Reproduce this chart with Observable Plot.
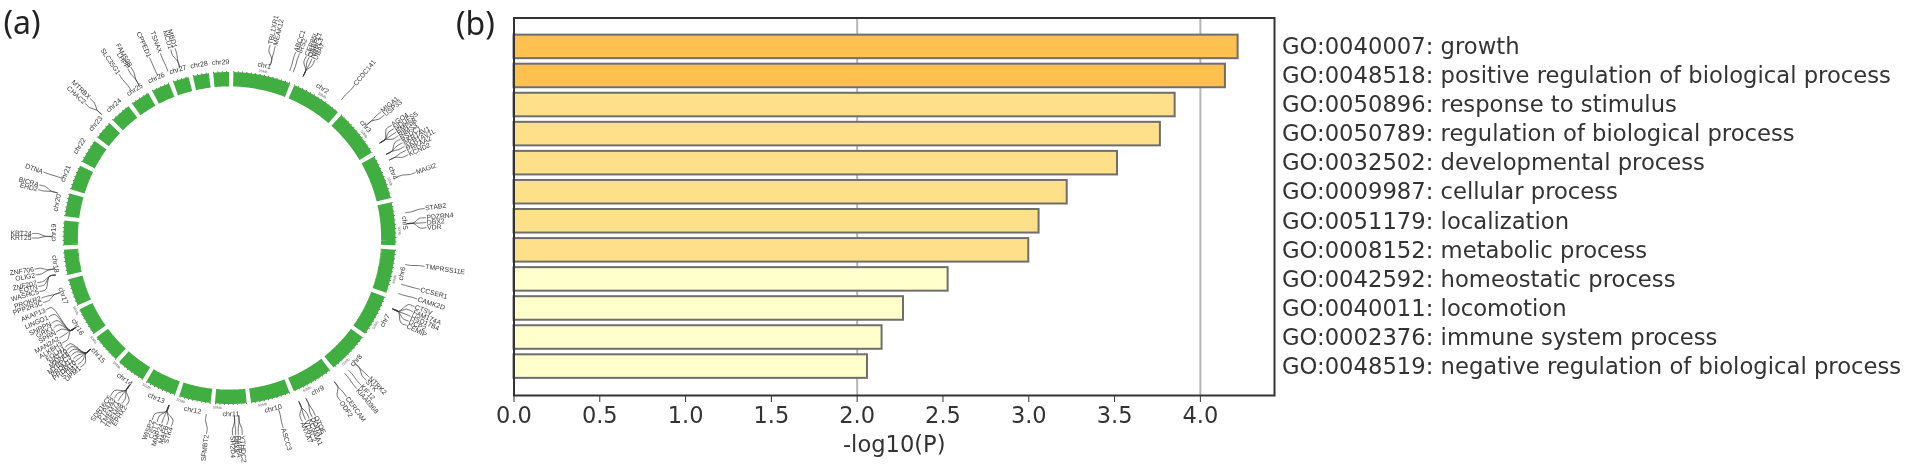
<!DOCTYPE html>
<html><head><meta charset="utf-8">
<script src="https://cdn.jsdelivr.net/npm/d3@7"></script>
<script src="https://cdn.jsdelivr.net/npm/@observablehq/plot@0.6"></script>
<style>
html,body{margin:0;padding:0;background:#fff;overflow:hidden}
#wrap{display:flex;width:1905px;height:471px}
#wrap svg{display:block;flex:none;filter:blur(0.45px)}
#wrap svg:first-child{margin-right:-30px}
</style></head><body><div id="wrap"></div>
<script>
// ---------- panel (b) ----------
const goTerms = ["GO:0040007: growth","GO:0048518: positive regulation of biological process","GO:0050896: response to stimulus","GO:0050789: regulation of biological process","GO:0032502: developmental process","GO:0009987: cellular process","GO:0051179: localization","GO:0008152: metabolic process","GO:0042592: homeostatic process","GO:0040011: locomotion","GO:0002376: immune system process","GO:0048519: negative regulation of biological process"];
const logP = [4.22,4.146,3.853,3.767,3.517,3.224,3.06,3.0,2.53,2.27,2.145,2.06];
const tiers = ["high","high","mid","mid","mid","mid","mid","mid","low","low","low","low"];
const tierColors = ["#FEC04E","#FEE08B","#FFFFCC"];
const xTicks = [0,0.5,1,1.5,2,2.5,3,3.5,4];
const gridAt = [2,4];

// ---------- panel (a): angles in degrees clockwise from the top ----------
const chrNames = d3.range(1,30).map(i=>"chr"+i);
const chrStarts = [0.6,22.2,41.5,59.8,76.8,93.3,110,126,142,158,173.3,185.8,198.4,210.8,222.4,234,245.3,256.4,266.7,276.8,286.3,296.6,306.5,314.5,323.3,331.5,339.4,346.5,353.6];
const geneNames = ["TBL1XR1","MEAK12","ABCC1","IRS2","CEP85L","OSBPL1","NRPL3","UBA7","CCDC141","MIGA1","USP33","AGO4","NDUFS5","BMP8B","RIMS3","BSDC1","AKR1AV1","AKR1AV1L","PRKAA2","KCND2","MAGI2","STAB2","PDZRN4","DBX2","VDR","TMPRSS11E","CCSER1","CAMK2D","CTSV","FAM174A","HSD17B4","DCP2","CEMIP","NTRK2","SYK","KIF12","KIAA0368","CERCAM","ODF2","OTOE","DDIT4","KCNMA1","VDAC2","ANXA7","ASCC3","YTHDC2","PAPPA","PAX8","SH2D4","SFMBT2","STK4","MAFB","MMP24","CST7","WISP2","EPHX2","TMEM68","TMEM71","PTP4A3","SDR16C5","UPM1","STIM1","PRDM10","PRDM11","MYBPC3","MAPK8","NAT10","FOLH1","ALKBH3","MAN2A2","SPRN","GRK1","SNRPN","LINGO1","AKAP13","PPP2R3C","PROKR2","WASHC5","EQTN","ZNF207","OLIG2","ZNF706","KRT25","KRT24","EHD2","BICRA","DTNA","CHAC2","MTRBX","SLC35G1","LHPP","FAM59B","CPPED1","TSNAX","MCU1","MBD1"];
const genePos = [13.3,13.3,19.8,21,24.5,24.5,24.5,24.5,39,50.5,50.5,57.7,57.7,57.7,57.7,61.9,61.9,61.9,64,64,70,81.8,85.4,85.4,85.4,98.6,105.1,108.2,113.5,113.5,113.5,113.5,113.5,135,135,138,139.6,143.9,143.9,154.5,154.5,157,157,157,164,177,177,178.4,178.4,187.5,199.9,199.9,199.9,199.9,199.9,214.2,214.2,214.2,214.2,214.2,231.3,231.3,231.3,231.3,231.3,231.3,231.3,231.3,239.8,239.8,239.8,239.8,239.8,239.8,239.8,252.1,252.1,258,258,258,260,260,270.5,270.5,284.7,284.7,289.6,314,314,326.3,329.4,329.4,336.1,339.7,343.7,343.7];
const geneLabelAt = [11.9,13.4,19.6,20.8,22.9,23.8,24.7,25.6,39.3,50.2,51.5,55.2,56.4,57.6,58.8,60,61.2,62.4,63.6,65,70.6,81.4,84.1,85.5,87,98.3,105.1,108,110.4,111.9,113.4,114.9,116.3,134.9,136.1,138.2,139.8,143.6,145.7,154.2,155.2,156.2,157.3,158.4,164.2,176.3,177.4,178.2,179.1,186.7,197.2,198.6,200.1,201.5,203,211.7,213,214.4,215.7,217,229.1,230.2,231.3,232.3,233.4,234.4,235.4,236.4,237.9,239.6,241.5,243,244.4,246.4,248.6,250.9,252.3,254.3,255.8,256.9,259.2,260.9,270,271.3,284.2,285.6,289.5,313,315,326,329,330,336.1,339.5,342.7,344];

// polar helper: angle (deg clockwise from top), radius -> data x/y
const rad = a => a*Math.PI/180;
const px = (a,r) => r*Math.sin(rad(a));
const py = (a,r) => -r*Math.cos(rad(a));
const spanEnd = i => i < chrStarts.length-1 ? chrStarts[i+1] : 360.6;

const ringPts = [];
chrStarts.forEach((s,i)=>{
  const e = spanEnd(i)-0.75, b = s+0.75;
  const n = Math.ceil(e-b)*2;
  for(let k=0;k<=n;k++) ringPts.push({chr:chrNames[i],a:b+(e-b)*k/n});
});
const chrLabels = chrNames.map((name,i)=>{
  const a = (chrStarts[i]+spanEnd(i))/2;
  return {name,a};
});
const scaleLabels = chrStarts.map((s,i)=>({s,e:spanEnd(i)})).filter(d=>d.e-d.s>10.8&&d.s<235).map(d=>({a:d.s+10.8}));
const tangent = a => (a<=90||a>270) ? (a>270?a-360:a) : a-180;
const genes = geneNames.map((name,i)=>({name,pos:genePos[i],lab:geneLabelAt[i]}));
const leaders = genes.flatMap(g=>[[g.pos,178],[g.pos,184],[g.lab,191],[g.lab,197]].map(([a,r])=>({name:g.name,a,r})));
const labelFont = "Liberation Sans, Arial, sans-serif";
const inkGrey = "#333";

const circ = Plot.plot({
  width:480,height:471,margin:0,
  x:{domain:[-229,251],range:[0,480],axis:null},
  y:{domain:[-237.5,233.5],range:[0,471],axis:null},
  marks:[
    Plot.line(ringPts,{x:d=>px(d.a,158.8),y:d=>py(d.a,158.8),z:"chr",stroke:"#40AE40",strokeWidth:14.4,strokeLinecap:"butt",strokeLinejoin:"miter"}),
    Plot.line(ringPts,{x:d=>px(d.a,166.4),y:d=>py(d.a,166.4),z:"chr",stroke:"#333",strokeWidth:1,strokeLinecap:"butt",strokeDasharray:"0.8 3.6"}),
    Plot.line(leaders,{x:d=>px(d.a,d.r),y:d=>py(d.a,d.r),z:"name",stroke:"#333",strokeWidth:0.7,curve:"catmull-rom"}),
    Plot.text(chrLabels,{x:d=>px(d.a,176),y:d=>py(d.a,176),text:"name",rotate:d=>tangent(d.a),fontSize:7,fontFamily:labelFont,fill:"#333"}),
    Plot.text(scaleLabels,{x:d=>px(d.a,170),y:d=>py(d.a,170),text:()=>"50Mb",rotate:d=>tangent(d.a),fontSize:3.6,fontFamily:labelFont,fill:"#666"}),
    Plot.text(genes.filter(g=>g.lab<180),{x:d=>px(d.lab,198),y:d=>py(d.lab,198),text:"name",rotate:d=>d.lab-90,textAnchor:"start",fontSize:6.8,fontFamily:labelFont,fill:inkGrey}),
    Plot.text(genes.filter(g=>g.lab>=180),{x:d=>px(d.lab,198),y:d=>py(d.lab,198),text:"name",rotate:d=>d.lab-270,textAnchor:"end",fontSize:6.8,fontFamily:labelFont,fill:inkGrey}),
    Plot.text(["(a)"],{frameAnchor:"top-left",dx:3,dy:11,fontSize:32,fontFamily:"Noto Sans, sans-serif",fill:"#222",textAnchor:"start"})
  ]
});

const rows = goTerms.map((term,i)=>({term,v:logP[i],tier:tiers[i]}));
const dejavu = "DejaVu Sans, sans-serif";
const bars = Plot.plot({
  width:1455,height:471,
  marginLeft:63.5,marginRight:631,marginTop:17.5,marginBottom:76,
  x:{domain:[0,4.432],ticks:xTicks},
  y:{domain:goTerms,paddingInner:0.19,paddingOuter:0.59,round:false},
  color:{domain:["high","mid","low"],range:tierColors},
  style:{background:"transparent"},
  marks:[
    Plot.ruleX(gridAt,{stroke:"#b6b6b6",strokeWidth:2}),
    Plot.barX(rows,{x:"v",y:"term",fill:"tier",stroke:"#6e6e6e",strokeWidth:2}),
    Plot.frame({stroke:"#333",strokeWidth:2}),
    Plot.axisX({ticks:xTicks,tickFormat:d3.format(".1f"),tickSize:7,tickPadding:5,fontSize:22.5,fontFamily:dejavu,color:"#333",label:null}),
    Plot.axisY({anchor:"right",tickSize:0,tickPadding:7.5,fontSize:22.7,fontFamily:dejavu,color:"#333",label:null}),
    Plot.text(["-log10(P)"],{frameAnchor:"bottom",dy:56,fontSize:22.6,fontFamily:dejavu,fill:"#333"}),
    Plot.text(["(b)"],{frameAnchor:"top-left",dx:-58,dy:-6,fontSize:32,fontFamily:"Noto Sans, sans-serif",fill:"#222",textAnchor:"start"})
  ]
});
const wrap=document.getElementById("wrap");
wrap.append(circ,bars);
</script></body></html>
